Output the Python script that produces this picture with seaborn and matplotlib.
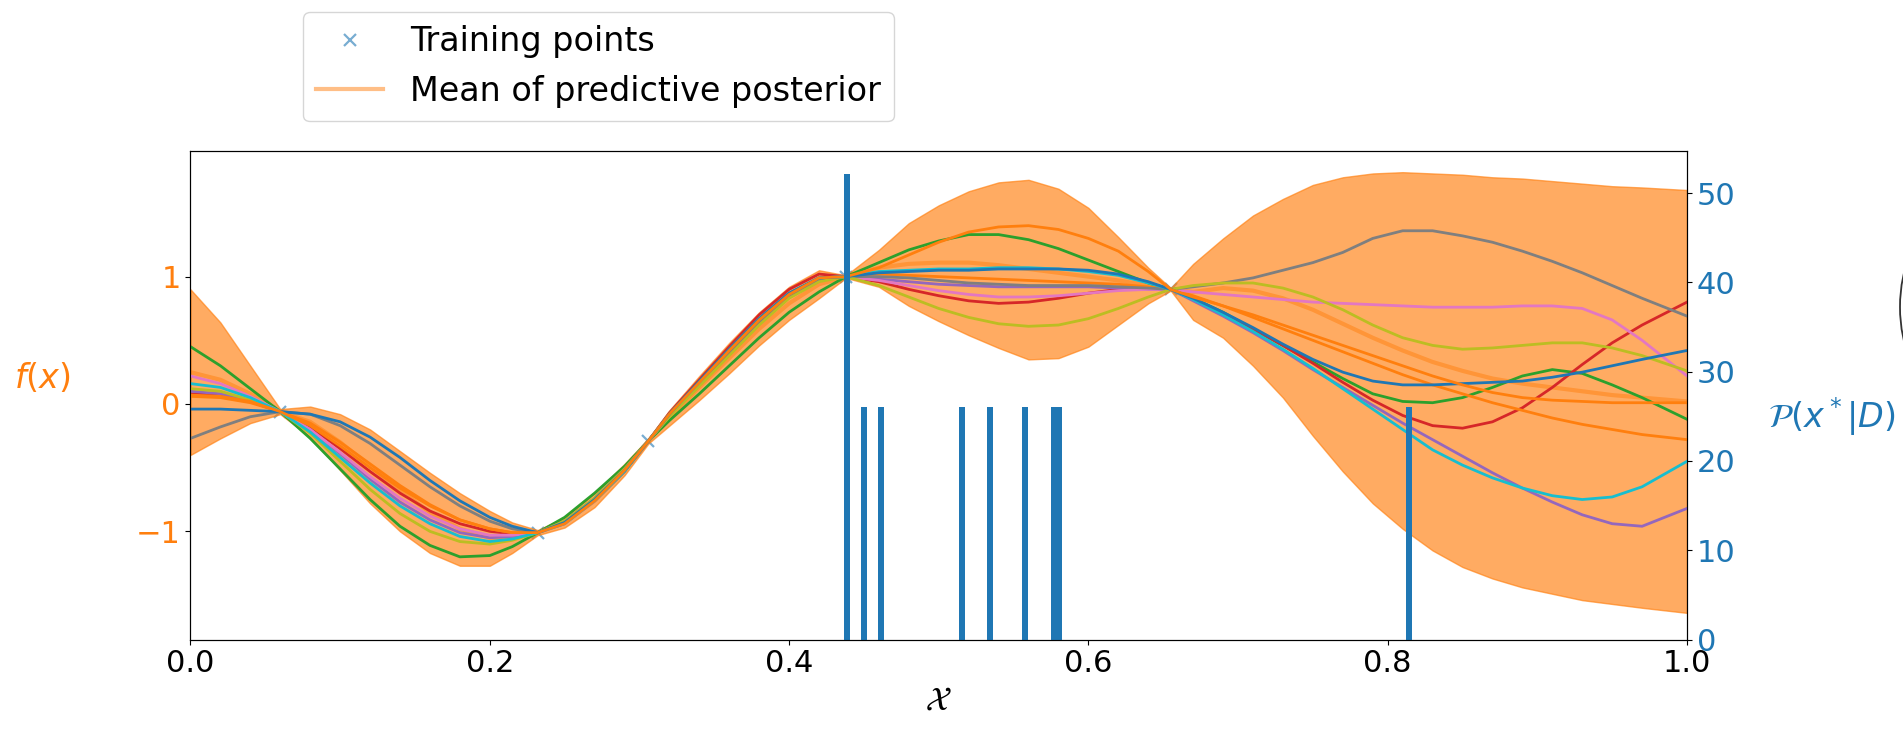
import matplotlib
matplotlib.use("Agg")
import matplotlib.pyplot as plt
import numpy as np
import pandas as pd
import seaborn as sns
from matplotlib.patches import Ellipse

# Evaluation grid of the GP posterior
X_GRID = [0.00, 0.02, 0.04, 0.06, 0.08, 0.10, 0.12, 0.14, 0.16, 0.18, 0.20, 0.215, 0.232,
          0.25, 0.27, 0.29, 0.306, 0.32, 0.34, 0.36, 0.38, 0.40, 0.42, 0.438,
          0.46, 0.48, 0.50, 0.52, 0.54, 0.56, 0.58, 0.60, 0.62, 0.64, 0.655,
          0.67, 0.69, 0.71, 0.73, 0.75, 0.77, 0.79, 0.81, 0.83, 0.85, 0.87, 0.89, 0.91,
          0.93, 0.95, 0.97, 1.00]

# Predictive posterior: mean and +/- 2 std band
POSTERIOR_MEAN = [0.25, 0.19, 0.08, -0.06, -0.14, -0.30, -0.49, -0.68, -0.85, -0.98, -1.05, -1.05, -1.01,
                  -0.93, -0.76, -0.52, -0.29, -0.11, 0.13, 0.36, 0.59, 0.79, 0.94, 1.00,
                  1.07, 1.10, 1.11, 1.11, 1.09, 1.06, 1.03, 1.00, 0.97, 0.93, 0.90,
                  0.88, 0.91, 0.89, 0.83, 0.74, 0.63, 0.52, 0.42, 0.33, 0.26, 0.20, 0.16, 0.13,
                  0.10, 0.07, 0.05, 0.02]
BAND_UPPER = [0.90, 0.64, 0.30, -0.04, -0.02, -0.08, -0.20, -0.37, -0.54, -0.70, -0.84, -0.93, -0.99,
              -0.89, -0.70, -0.47, -0.27, -0.05, 0.22, 0.48, 0.72, 0.92, 1.05, 1.01,
              1.21, 1.42, 1.56, 1.67, 1.74, 1.76, 1.69, 1.54, 1.31, 1.07, 0.91,
              1.10, 1.30, 1.48, 1.61, 1.72, 1.78, 1.81, 1.82, 1.81, 1.80, 1.78, 1.77, 1.75,
              1.73, 1.71, 1.70, 1.68]
BAND_LOWER = [-0.40, -0.27, -0.15, -0.08, -0.26, -0.52, -0.78, -1.00, -1.17, -1.27, -1.27, -1.17, -1.03,
              -0.97, -0.81, -0.56, -0.31, -0.17, 0.03, 0.24, 0.46, 0.66, 0.83, 0.99,
              0.92, 0.77, 0.65, 0.54, 0.44, 0.35, 0.36, 0.45, 0.62, 0.79, 0.89,
              0.66, 0.52, 0.30, 0.05, -0.25, -0.53, -0.78, -0.98, -1.15, -1.28, -1.37, -1.44, -1.49,
              -1.54, -1.57, -1.60, -1.64]

# Posterior function samples
SAMPLE_A = [0.45, 0.30, 0.12, -0.06, -0.27, -0.51, -0.75, -0.96, -1.11, -1.20, -1.19, -1.12, -1.01,
            -0.89, -0.70, -0.49, -0.29, -0.13, 0.08, 0.30, 0.52, 0.72, 0.88, 1.00,
            1.11, 1.21, 1.28, 1.33, 1.33, 1.29, 1.22, 1.13, 1.04, 0.95, 0.90,
            0.83, 0.72, 0.59, 0.46, 0.33, 0.20, 0.08, 0.02, 0.01, 0.05, 0.13, 0.22, 0.27,
            0.24, 0.15, 0.05, -0.12]
SAMPLE_B = [0.08, 0.07, 0.02, -0.06, -0.18, -0.35, -0.53, -0.70, -0.84, -0.94, -1.00, -1.02, -1.01,
            -0.93, -0.76, -0.53, -0.29, -0.07, 0.19, 0.45, 0.70, 0.90, 1.02, 1.00,
            0.96, 0.90, 0.85, 0.81, 0.79, 0.80, 0.83, 0.87, 0.90, 0.91, 0.90,
            0.82, 0.71, 0.59, 0.46, 0.32, 0.17, 0.03, -0.09, -0.17, -0.19, -0.14, -0.03, 0.13,
            0.31, 0.48, 0.62, 0.80]
SAMPLE_C = [0.10, 0.08, 0.02, -0.06, -0.20, -0.39, -0.59, -0.77, -0.91, -1.01, -1.05, -1.04, -1.01,
            -0.94, -0.76, -0.52, -0.29, -0.09, 0.16, 0.41, 0.65, 0.85, 0.98, 1.00,
            0.98, 0.96, 0.94, 0.93, 0.92, 0.92, 0.92, 0.92, 0.91, 0.90, 0.90,
            0.81, 0.69, 0.56, 0.42, 0.27, 0.13, -0.01, -0.15, -0.28, -0.41, -0.54, -0.66, -0.77,
            -0.87, -0.94, -0.96, -0.82]
SAMPLE_D = [0.06, 0.05, 0.01, -0.06, -0.15, -0.30, -0.47, -0.64, -0.79, -0.91, -0.98, -1.01, -1.01,
            -0.93, -0.75, -0.52, -0.29, -0.08, 0.17, 0.42, 0.66, 0.86, 0.99, 1.00,
            1.02, 1.01, 1.00, 0.99, 0.98, 0.97, 0.96, 0.95, 0.94, 0.92, 0.90,
            0.85, 0.77, 0.68, 0.59, 0.50, 0.41, 0.32, 0.23, 0.15, 0.08, 0.01, -0.05, -0.11,
            -0.16, -0.20, -0.24, -0.28]
SAMPLE_E = [0.22, 0.16, 0.06, -0.06, -0.20, -0.38, -0.57, -0.74, -0.88, -0.98, -1.03, -1.03, -1.01,
            -0.94, -0.76, -0.52, -0.29, -0.09, 0.15, 0.40, 0.64, 0.85, 0.98, 1.00,
            0.97, 0.93, 0.89, 0.86, 0.84, 0.84, 0.85, 0.87, 0.89, 0.90, 0.90,
            0.88, 0.86, 0.84, 0.82, 0.80, 0.79, 0.78, 0.77, 0.76, 0.76, 0.76, 0.77, 0.77,
            0.75, 0.66, 0.50, 0.22]
SAMPLE_F = [-0.27, -0.18, -0.10, -0.06, -0.08, -0.17, -0.31, -0.48, -0.65, -0.80, -0.92, -0.98, -1.01,
            -0.92, -0.74, -0.51, -0.29, -0.09, 0.15, 0.40, 0.64, 0.84, 0.97, 1.00,
            1.00, 0.99, 0.97, 0.95, 0.94, 0.93, 0.93, 0.93, 0.92, 0.91, 0.90,
            0.92, 0.95, 0.99, 1.05, 1.11, 1.19, 1.30, 1.36, 1.36, 1.32, 1.27, 1.20, 1.12,
            1.03, 0.93, 0.83, 0.69]
SAMPLE_G = [0.12, 0.10, 0.03, -0.06, -0.23, -0.45, -0.67, -0.86, -1.00, -1.08, -1.10, -1.07, -1.01,
            -0.92, -0.74, -0.51, -0.29, -0.10, 0.14, 0.38, 0.62, 0.83, 0.96, 1.00,
            0.93, 0.84, 0.75, 0.68, 0.63, 0.61, 0.62, 0.67, 0.75, 0.84, 0.90,
            0.93, 0.95, 0.95, 0.91, 0.84, 0.74, 0.62, 0.52, 0.46, 0.43, 0.44, 0.46, 0.48,
            0.48, 0.44, 0.38, 0.26]
SAMPLE_H = [0.16, 0.13, 0.05, -0.06, -0.22, -0.42, -0.62, -0.80, -0.94, -1.04, -1.08, -1.06, -1.01,
            -0.94, -0.76, -0.53, -0.29, -0.08, 0.17, 0.43, 0.67, 0.87, 0.99, 1.00,
            1.04, 1.05, 1.06, 1.06, 1.07, 1.07, 1.06, 1.04, 1.01, 0.95, 0.90,
            0.82, 0.70, 0.57, 0.43, 0.28, 0.12, -0.04, -0.20, -0.36, -0.48, -0.58, -0.66, -0.72,
            -0.75, -0.73, -0.65, -0.45]
SAMPLE_I = [-0.04, -0.04, -0.05, -0.06, -0.08, -0.14, -0.26, -0.42, -0.60, -0.76, -0.89, -0.96, -1.01,
            -0.93, -0.75, -0.52, -0.29, -0.08, 0.18, 0.43, 0.67, 0.87, 0.99, 1.00,
            1.03, 1.04, 1.05, 1.05, 1.06, 1.06, 1.06, 1.05, 1.02, 0.96, 0.90,
            0.83, 0.72, 0.60, 0.47, 0.35, 0.25, 0.18, 0.15, 0.15, 0.16, 0.17, 0.18, 0.21,
            0.25, 0.30, 0.35, 0.42]
SAMPLE_J = [0.07, 0.06, 0.02, -0.06, -0.17, -0.33, -0.50, -0.66, -0.80, -0.91, -0.98, -1.01, -1.01,
            -0.94, -0.76, -0.52, -0.29, -0.08, 0.17, 0.42, 0.66, 0.86, 0.99, 1.00,
            1.07, 1.17, 1.27, 1.35, 1.39, 1.40, 1.37, 1.30, 1.20, 1.04, 0.90,
            0.84, 0.77, 0.70, 0.62, 0.54, 0.46, 0.38, 0.30, 0.22, 0.15, 0.09, 0.05, 0.03,
            0.02, 0.01, 0.01, 0.01]

SAMPLE_NAMES = ["A", "B", "C", "D", "E", "F", "G", "H", "I", "J"]
SAMPLE_COLORS = ["C2", "C3", "C4", "C1", "C6", "C7", "C8", "C9", "C0", "C1"]

# Training data
TRAIN_X = [0.06, 0.232, 0.306, 0.438, 0.655]
TRAIN_Y = [-0.06, -1.01, -0.29, 1.00, 0.90]

# Locations of the maximum of each posterior sample
ARGMAX_SAMPLES = [0.4369, 0.4375, 0.4518, 0.4601, 0.5169, 0.5360, 0.5594, 0.5779, 0.5819, 0.8151]
ARGMAX_BINRANGE = (0.4367, 0.8202)

X_TICKS = [0.0, 0.2, 0.4, 0.6, 0.8, 1.0]
F_TICKS = [-1, 0, 1]
P_TICKS = [0, 10, 20, 30, 40, 50]

samples = pd.DataFrame({"x": X_GRID, "A": SAMPLE_A, "B": SAMPLE_B, "C": SAMPLE_C, "D": SAMPLE_D,
                        "E": SAMPLE_E, "F": SAMPLE_F, "G": SAMPLE_G, "H": SAMPLE_H,
                        "I": SAMPLE_I, "J": SAMPLE_J})
samples_long = samples.melt(id_vars="x", var_name="sample", value_name="f")

fig = plt.figure(figsize=(19.03, 7.30), dpi=100)
ax = fig.add_axes([0.1001, 0.1238, 0.7864, 0.6700])

ax.plot(TRAIN_X, TRAIN_Y, "x", color="C0", alpha=0.6, ms=9, mew=1.6,
        label="Training points", zorder=1)
sns.lineplot(x=X_GRID, y=POSTERIOR_MEAN, ax=ax, color="C1", alpha=0.5, lw=3,
             label="Mean of predictive posterior", legend=False, zorder=1)
ax.fill_between(X_GRID, BAND_LOWER, BAND_UPPER, color="C1", alpha=0.65, zorder=2)
sns.lineplot(data=samples_long, x="x", y="f", hue="sample", hue_order=SAMPLE_NAMES,
             palette=SAMPLE_COLORS, lw=2.0, errorbar=None, legend=False, ax=ax, zorder=3)

ax.set_ylim(-1.85, 1.99)
ax.set_yticks(F_TICKS)
ax.tick_params(axis="y", labelcolor="C1", labelsize=22)
ax.tick_params(axis="x", labelsize=22)
ax.set_ylabel("$f(x)$", color="C1", rotation=0, fontsize=24)
ax.yaxis.set_label_coords(-0.0992, 0.5)

ax2 = ax.twinx()
sns.histplot(x=ARGMAX_SAMPLES, bins=100, binrange=ARGMAX_BINRANGE, stat="density",
             color="C0", alpha=1.0, linewidth=0, ax=ax2)
ax2.set_ylim(0, 54.76)
ax2.set_yticks(P_TICKS)
ax2.tick_params(axis="y", labelcolor="C0", labelsize=22)
ax2.set_ylabel(r"$\mathcal{P}(x^*|D)$", color="C0", rotation=0, fontsize=24)
ax2.yaxis.set_label_coords(1.097, 0.5)

ax.set_xlim(0, 1)
ax.set_xticks(X_TICKS)
ax.set_xlabel(r"$\mathcal{X}$", fontsize=24)

handles, labels = ax.get_legend_handles_labels()
fig.legend(handles, labels, loc="upper left", bbox_to_anchor=(303 / 1903, 1 - 12 / 730),
           bbox_transform=fig.transFigure, fontsize=24, borderaxespad=0)

fig.add_artist(Ellipse((2050 / 1903, 1 - 307 / 730), width=300 / 1903, height=300 / 730,
                       transform=fig.transFigure, fill=False, edgecolor="#333333", lw=1.3))

fig.savefig("out.png", dpi=100)
